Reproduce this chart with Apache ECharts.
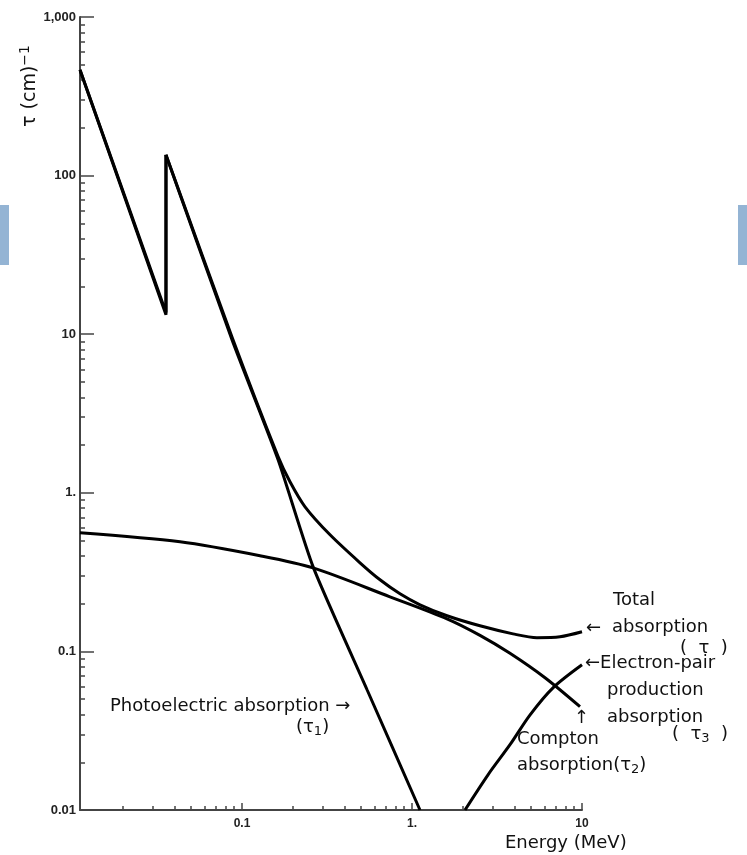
<!DOCTYPE html>
<html><head><meta charset="utf-8">
<script src="https://cdn.jsdelivr.net/npm/echarts@6/dist/echarts.min.js"></script>
<style>html,body{margin:0;padding:0;background:#fff}#c{width:747px;height:855px}</style>
</head><body><div id="c"></div>
<script>
// Energy (MeV) / attenuation coefficient tau (cm^-1)
const photoPreEdge = [[0.01114, 464], [0.0357, 13.25], [0.0357, 135]];
const photoPostEdge = [[0.0357, 135], [0.0873, 9.22], [0.163, 1.615], [0.262, 0.341], [0.544, 0.0573], [1.114, 0.01]];
const comptonData = [[0.01114, 0.56], [0.0432, 0.491], [0.1276, 0.401], [0.262, 0.336], [0.742, 0.2209], [1.606, 0.1606], [2.512, 0.1263], [3.77, 0.0973], [6.06, 0.0682], [9.73, 0.0448]];
const pairData = [[2.05, 0.01], [2.80, 0.01667], [3.77, 0.0258], [4.95, 0.0398], [6.75, 0.0589], [10.0, 0.0823]];
const totalPreEdge = [[0.01114, 465], [0.0357, 13.7], [0.0357, 135.5]];
const totalPostEdge = [[0.0357, 135.5], [0.0873, 9.6], [0.163, 1.69], [0.1915, 1.173], [0.2348, 0.816], [0.3295, 0.5433], [0.4944, 0.362], [0.6484, 0.2828], [0.850, 0.2307], [1.1145, 0.1967], [1.606, 0.1677], [2.51, 0.145], [3.93, 0.129], [5.43, 0.122], [7.42, 0.1236], [10.0, 0.133]];
const xTickLabels = {"-1": "0.1", "0": "1.", "1": "10"};
const yTickLabels = {"-2": "0.01", "-1": "0.1", "0": "1.", "1": "10", "2": "100", "3": "1,000"};
const xMin = 0.01114, xMax = 10, yMin = 0.01, yMax = 1000;

function decadeLabel(map) {
  return function (v) {
    const l = Math.log10(v), r = Math.round(l);
    if (Math.abs(l - r) > 1e-6) return '';
    return map[String(r)] || '';
  };
}
const lineStyle = {color: '#000', width: 3};
function mk(data, smooth) {
  return {type: 'line', data: data, smooth: smooth, showSymbol: false, symbol: 'none',
    lineStyle: lineStyle, silent: true, animation: false, clip: true};
}
const txt = {fontFamily: 'DejaVu Sans', fontSize: 18, fill: '#111'};
function T(x, y, text, extra) {
  return {type: 'text', x: x, y: y, silent: true,
    style: Object.assign({}, txt, {text: text, textVerticalAlign: 'middle', textAlign: 'left'}, extra || {})};
}
const subRich = {
  a: {fontFamily: 'DejaVu Sans', fontSize: 18, lineHeight: 22, fill: '#111'},
  s: {fontFamily: 'DejaVu Sans', fontSize: 13, lineHeight: 12, verticalAlign: 'bottom', fill: '#111'}
};
const chart = echarts.init(document.getElementById('c'), null, {renderer: 'canvas'});
chart.setOption({
  backgroundColor: '#fff',
  animation: false,
  grid: {left: 80, right: 165, top: 17, bottom: 45},
  xAxis: {type: 'log', logBase: 10, min: xMin, max: xMax,
    axisLine: {lineStyle: {color: '#444', width: 2}},
    axisTick: {inside: true, length: 7, lineStyle: {color: '#444', width: 1.5}},
    minorTick: {show: true, splitNumber: 9, length: 4, lineStyle: {color: '#444', width: 1.5}},
    splitLine: {show: false}, minorSplitLine: {show: false},
    axisLabel: {formatter: decadeLabel(xTickLabels), color: '#222', fontFamily: 'Liberation Sans', fontWeight: 'bold', fontSize: 12, margin: 8, showMinLabel: true}
  },
  yAxis: {type: 'log', logBase: 10, min: yMin, max: yMax,
    axisLine: {lineStyle: {color: '#444', width: 2}},
    axisTick: {inside: true, length: 14, lineStyle: {color: '#444', width: 1.5}},
    minorTick: {show: true, splitNumber: 9, length: 5, lineStyle: {color: '#444', width: 1.5}},
    splitLine: {show: false}, minorSplitLine: {show: false},
    axisLabel: {formatter: decadeLabel(yTickLabels), color: '#222', fontFamily: 'Liberation Sans', fontWeight: 'bold', fontSize: 13, margin: 4}
  },
  series: [
    mk(photoPreEdge, false), mk(photoPostEdge, 0.2),
    mk(totalPreEdge, false), mk(totalPostEdge, 0.3),
    mk(comptonData, 0.3), mk(pairData, 0.3)
  ],
  graphic: [
    {type: 'rect', shape: {x: 0, y: 205, width: 9, height: 60}, style: {fill: '#94b4d4'}, silent: true},
    {type: 'rect', shape: {x: 738, y: 205, width: 9, height: 60}, style: {fill: '#94b4d4'}, silent: true},
    {type: 'text', x: 30, y: 86, rotation: Math.PI / 2, silent: true,
      style: {text: '{a|τ (cm)}{p|−1}', textAlign: 'center', textVerticalAlign: 'middle',
        rich: {a: {fontFamily: 'DejaVu Sans', fontSize: 19, lineHeight: 24, fill: '#111'},
               p: {fontFamily: 'DejaVu Sans', fontSize: 14, lineHeight: 14, verticalAlign: 'top', fill: '#111'}}}},
    T(505, 843, 'Energy (MeV)'),
    T(110, 706, 'Photoelectric absorption →'),
    {type: 'text', x: 296, y: 727, silent: true, style: {text: '{a|(τ}{s|1}{a|)}', textAlign: 'left', textVerticalAlign: 'middle', rich: subRich}},
    T(613, 600, 'Total'),
    T(586, 628, '←'),
    T(612, 627, 'absorption'),
    T(680, 648, '(  τ  )'),
    T(585, 663, '←Electron-pair'),
    T(607, 690, 'production'),
    T(607, 717, 'absorption'),
    {type: 'text', x: 672, y: 734, silent: true, style: {text: '{a|(  τ}{s|3}{a|  )}', textAlign: 'left', textVerticalAlign: 'middle', rich: subRich}},
    T(574, 718, '↑'),
    T(517, 739, 'Compton'),
    {type: 'text', x: 517, y: 765, silent: true, style: {text: '{a|absorption(τ}{s|2}{a|)}', textAlign: 'left', textVerticalAlign: 'middle', rich: subRich}}
  ]
});
</script></body></html>
